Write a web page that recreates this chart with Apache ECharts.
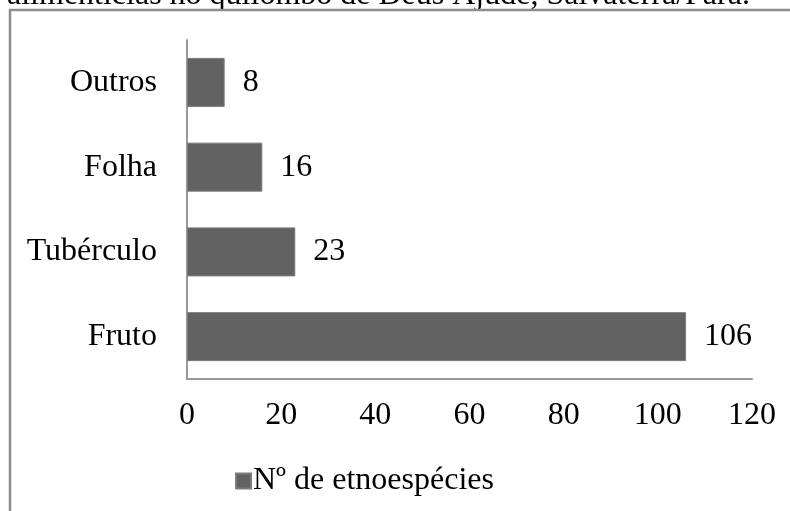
<!DOCTYPE html>
<html>
<head>
<meta charset="utf-8">
<script src="https://cdn.jsdelivr.net/npm/echarts@6/dist/echarts.min.js"></script>
<style>
  html, body { margin: 0; padding: 0; background: #fff; }
  #chart { width: 790px; height: 511px; }
</style>
</head>
<body>
<div id="chart"></div>
<script>
// Plant parts used as food (bottom to top on the category axis)
const categories = ['Fruto', 'Tubérculo', 'Folha', 'Outros'];
const speciesCounts = [106, 23, 16, 8];
const seriesName = 'Nº de etnoespécies';
const xTicks = { min: 0, max: 120, interval: 20 };
const captionText = 'alimentícias no quilombo de Deus Ajude, Salvaterra/Pará.';

const FONT = '"Liberation Serif", "Times New Roman", serif';
const chart = echarts.init(document.getElementById('chart'), null, { renderer: 'canvas' });

chart.setOption({
  animation: false,
  backgroundColor: '#ffffff',
  grid: { left: 187, top: 40, right: 38, bottom: 132, containLabel: false },
  legend: {
    data: [seriesName],
    left: 230,
    top: 460,
    itemWidth: 15,
    itemHeight: 15,
    itemGap: 0,
    icon: 'rect',
    textStyle: { fontFamily: FONT, fontSize: 32, color: '#000', padding: [0, 0, 0, -3] }
  },
  xAxis: {
    type: 'value',
    min: xTicks.min,
    max: xTicks.max,
    interval: xTicks.interval,
    splitLine: { show: false },
    axisTick: { show: false },
    axisLine: { show: true, lineStyle: { color: '#999999', width: 2 } },
    axisLabel: { fontFamily: FONT, fontSize: 32, color: '#000', margin: 21 }
  },
  yAxis: {
    type: 'category',
    data: categories,
    axisTick: { show: false },
    axisLine: { show: true, lineStyle: { color: '#999999', width: 2 } },
    axisLabel: { fontFamily: FONT, fontSize: 32, color: '#000', margin: 30 }
  },
  series: [{
    name: seriesName,
    type: 'bar',
    data: speciesCounts,
    barWidth: 49,
    itemStyle: { color: '#626262', borderColor: '#7c7c7c', borderWidth: 1 },
    label: {
      show: true,
      position: 'right',
      distance: 18,
      fontFamily: FONT,
      fontSize: 32,
      color: '#000'
    }
  }],
  graphic: [
    {
      type: 'text',
      x: 7,
      y: -4,
      silent: true,
      style: {
        text: captionText,
        font: '32px ' + FONT,
        fill: '#000',
        align: 'left',
        verticalAlign: 'middle'
      }
    },
    {
      type: 'rect',
      silent: true,
      shape: { x: 10, y: 10, width: 820, height: 540 },
      style: { fill: 'none', stroke: '#8c8c8c', lineWidth: 2.5 }
    }
  ]
});
</script>
</body>
</html>
